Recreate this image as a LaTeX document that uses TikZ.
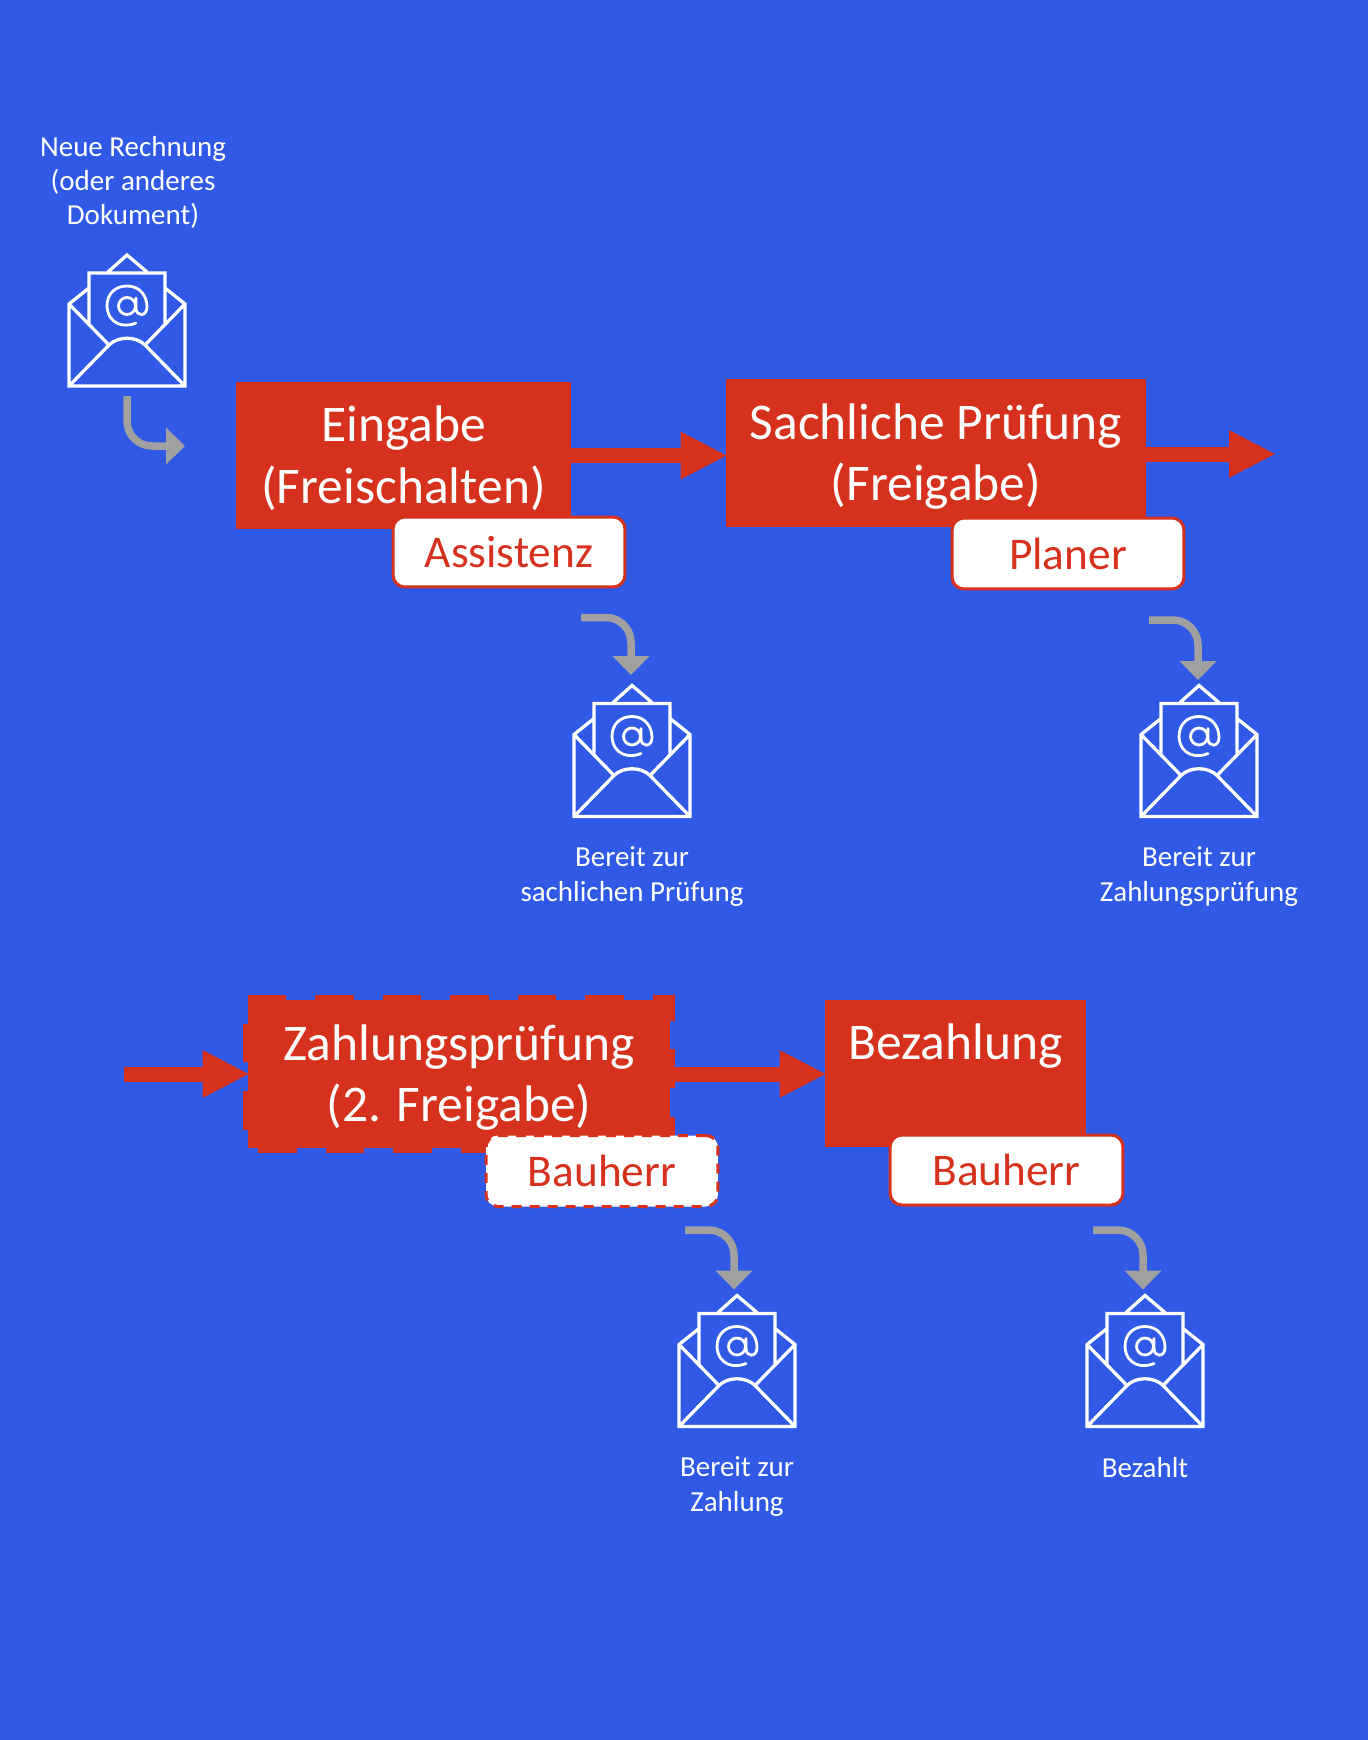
\documentclass[tikz,border=0pt]{standalone}
\usepackage{fontspec}
\setmainfont{Carlito}
\usetikzlibrary{arrows.meta}
\definecolor{bgblue}{HTML}{3059E5}
\definecolor{flowred}{HTML}{D6311C}
\definecolor{elbowgray}{HTML}{A0A0A0}
% keeps the two text lines at the same height in every step box
\newcommand{\topline}{\rule{0pt}{26.5pt}}
\newcommand{\bottomline}{\rule[-7.2pt]{0pt}{7.2pt}}
\tikzset{
    stepbox/.style={fill=flowred, text=white, align=center, inner sep=0pt, font=\fontsize{29.3}{35}\selectfont},
    rolebox/.style={fill=white, draw=flowred, line width=0.06cm, rounded corners=0.24cm, text=flowred, inner sep=0pt, font=\fontsize{25.8}{30}\selectfont},
    flowarrow/.style={draw=flowred, line width=0.3cm, shorten >=-0.04cm, -{Triangle[length=0.94cm,width=0.88cm]}},
    elbowarrow/.style={draw=elbowgray, line width=0.15cm, rounded corners=0.5cm, -{Triangle[length=0.38cm,width=0.72cm]}},
    maillabel/.style={text=white, align=center, inner sep=0pt, font=\fontsize{16.5}{19.6}\selectfont},
    mailicon/.pic={
        \draw[white, line width=0.066cm, line join=miter]
            (-19,17) -- (0,0) -- (20,17)
            (-38,68) -- (-38,18) -- (38,18) -- (38,68)
            (-38,33) -- (-58,49) -- (-58,131) -- (58,131) -- (58,49) -- (38,33)
            (-58,49) -- (-18,90)  (58,49) -- (18,90)
            (-58,131) -- (-18,90) .. controls (-9,81) and (9,81) .. (18,90) -- (58,131);
        \draw[white, line width=0.056cm, line cap=round]
            (0,51) circle (8.5)
            (9,68) .. controls (-2,73) and (-19,70) .. (-20,51) .. controls (-20,38) and (-11,31) .. (0,31)
            .. controls (13,31) and (20,41) .. (20,52) .. controls (20,62) and (9,62) .. (9,53) -- (9,43);
    }
}
\begin{document}
\begin{tikzpicture}[x=0.02cm,y=-0.02cm]
    \fill[bgblue] (0,0) rectangle (1368,1740);
    % Start
    \node[maillabel] (neu) at (133,182.5) {Neue Rechnung\\(oder anderes\\Dokument)};
    \pic at (127,255) {mailicon};
    \coordinate (neuA) at (127,396);
    \coordinate (neuB) at (185,446);
    \draw[elbowarrow] (neuA) |- (neuB);
    % Upper row
    \node[stepbox, minimum width=6.7cm, minimum height=2.94cm] (eingabe) at (403.5,455.5) {\topline Eingabe\\(Freischalten)\bottomline};
    \node[stepbox, minimum width=8.4cm, minimum height=2.96cm] (sachlich) at (936,453) {\topline Sachliche Prüfung\\(Freigabe)\bottomline};
    \coordinate (weiter) at (1274,454);
    \draw[flowarrow] (eingabe.east) -- (eingabe.east -| sachlich.west);
    \draw[flowarrow] (sachlich.east |- weiter) -- (weiter);
    \node[rolebox, minimum width=4.64cm, minimum height=1.4cm] (assistenz) at (509,552) {Assistenz};
    \node[rolebox, minimum width=4.64cm, minimum height=1.42cm] (planer) at (1068,553.5) {Planer};
    % Upper mails
    \coordinate (pruefA) at (581,617.5);
    \coordinate (pruefB) at (631,675);
    \draw[elbowarrow] (pruefA) -| (pruefB);
    \pic at (632,685.5) {mailicon};
    \node[maillabel] (pruef) at (632,876.5) {Bereit zur\\sachlichen Prüfung};
    \coordinate (zahlA) at (1149,620);
    \coordinate (zahlB) at (1198,680);
    \draw[elbowarrow] (zahlA) -| (zahlB);
    \pic at (1199,685.5) {mailicon};
    \node[maillabel] (zahl) at (1199,876.5) {Bereit zur\\Zahlungsprüfung};
    % Lower row
    \coordinate (zurueck) at (124,1074);
    \node[stepbox, minimum width=8.44cm, minimum height=2.96cm] (zahlung) at (459,1074) {\topline Zahlungsprüfung\\(2. Freigabe)\bottomline};
    \draw[flowred, line width=0.2cm, dash pattern=on 0.774cm off 0.576cm]
        (zahlung.north west) -- (zahlung.north east) -- (zahlung.south east) -- (zahlung.south west) -- cycle;
    \node[stepbox, minimum width=5.22cm, minimum height=2.94cm] (bezahlung) at (955.5,1073.5) {\topline Bezahlung\\\bottomline};
    \draw[flowarrow] (zurueck) -- (zurueck -| zahlung.west);
    \draw[flowarrow] (zahlung.east |- zurueck) -- (zurueck -| bezahlung.west);
    \node[rolebox, dash pattern=on 0.2cm off 0.16cm, minimum width=4.64cm, minimum height=1.42cm] (bauherrA) at (602,1171) {Bauherr};
    \node[rolebox, minimum width=4.66cm, minimum height=1.4cm] (bauherrB) at (1006.5,1170) {Bauherr};
    % Lower mails
    \coordinate (freiA) at (685,1230);
    \coordinate (freiB) at (734,1289.5);
    \draw[elbowarrow] (freiA) -| (freiB);
    \pic at (737,1295.5) {mailicon};
    \node[maillabel] (frei) at (737,1486.5) {Bereit zur\\Zahlung};
    \coordinate (paidA) at (1093,1230);
    \coordinate (paidB) at (1143,1289.5);
    \draw[elbowarrow] (paidA) -| (paidB);
    \pic at (1145,1295.5) {mailicon};
    \node[maillabel] (paid) at (1145,1468) {Bezahlt};
\end{tikzpicture}
\end{document}
